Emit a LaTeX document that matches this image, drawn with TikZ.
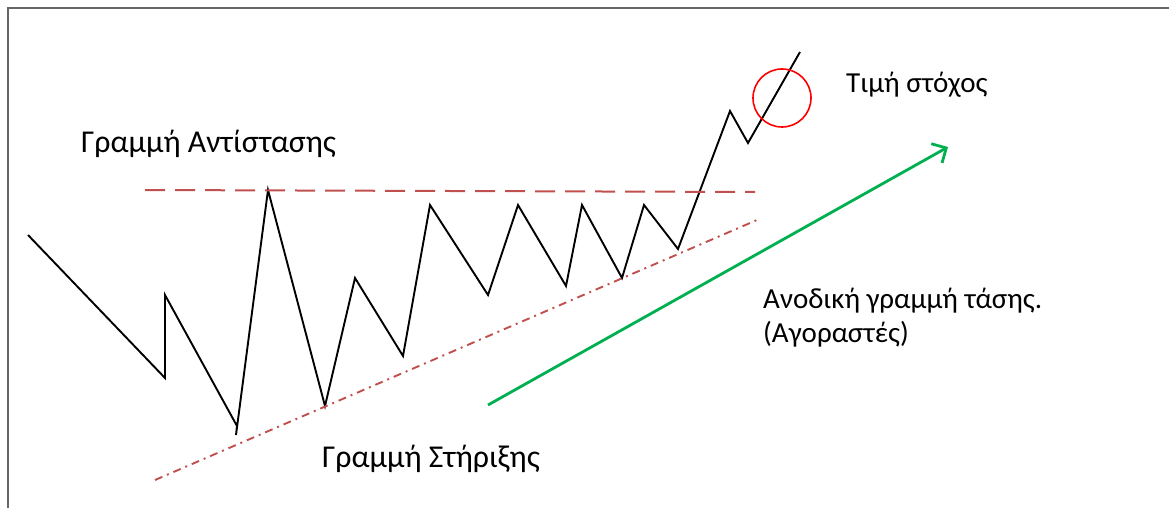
\documentclass[tikz,border=0pt]{standalone}
\usepackage{fontspec}
\setmainfont{Carlito}
\usepackage{xcolor}
\usetikzlibrary{arrows.meta}

\definecolor{lineRed}{HTML}{C0504D}
\definecolor{trendGreen}{HTML}{00B050}

\begin{document}
\begin{tikzpicture}[
  x=1pt, y=-1pt,
  font=\fontsize{29}{34}\selectfont,
  lbl/.style={anchor=base west, inner sep=0pt},
  biglbl/.style={lbl, font=\fontsize{31.8}{36}\selectfont},
  price/.style={line width=1.9pt, line join=miter},
  resist/.style={lineRed, line width=2pt, dash pattern=on 20pt off 10pt},
  support/.style={lineRed, line width=1.9pt, dash pattern=on 8pt off 5pt on 2pt off 5pt},
  trend/.style={trendGreen, line width=2.8pt,
                -{Straight Barb[length=11pt, width=22pt, line width=2.8pt]}},
]
  \useasboundingbox (0,0) rectangle (1169,508);

  % frame
  \draw[gray!80!black, line width=2.2pt] (8,508) -- (8,8) -- (1169,8);

  % price path
  \coordinate (p0) at (28,235);
  \coordinate (p1) at (165,378);
  \coordinate (p2) at (165,295);
  \coordinate (p3) at (237,426);
  \coordinate (p4) at (236,435);
  \coordinate (p5) at (268,190);
  \coordinate (p6) at (325,406);
  \coordinate (p7) at (355,278);
  \coordinate (p8) at (403,356);
  \coordinate (p9) at (430,205);
  \coordinate (p10) at (488,295);
  \coordinate (p11) at (518,205);
  \coordinate (p12) at (566,286);
  \coordinate (p13) at (582,205);
  \coordinate (p14) at (622,278);
  \coordinate (p15) at (644,205);
  \coordinate (p16) at (678,249);
  \coordinate (p17) at (730,111);
  \coordinate (p18) at (748,143);
  \coordinate (p19) at (800,52);

  \draw[price] (p0)
    \foreach \i in {1,...,19} { -- (p\i) };

  % resistance and support
  \coordinate (r1) at (145,190);
  \coordinate (r2) at (755,192);
  \draw[resist] (r1) -- (r2);

  \coordinate (s1) at (155,480);
  \coordinate (s2) at (757,220);
  \draw[support] (s1) -- (s2);

  % target circle
  \node[draw=red, line width=1.6pt, circle, minimum size=58pt, inner sep=0pt]
    (target) at (782,98) {};

  % trend arrow
  \coordinate (t1) at (488,405);
  \coordinate (t2) at (948,147);
  \draw[trend] (t1) -- (t2);

  % labels
  \node[biglbl] (resLbl) at (81,152) {Γραμμή Αντίστασης};
  \node[lbl] (tgtLbl) at (846,93) {Τιμή στόχος};
  \node[lbl] (upLbl)  at (763,308) {Ανοδική γραμμή τάσης.};
  \node[lbl] (buyLbl) at (763,342) {(Αγοραστές)};
  \node[biglbl] (supLbl) at (322,467) {Γραμμή Στήριξης};
\end{tikzpicture}
\end{document}
